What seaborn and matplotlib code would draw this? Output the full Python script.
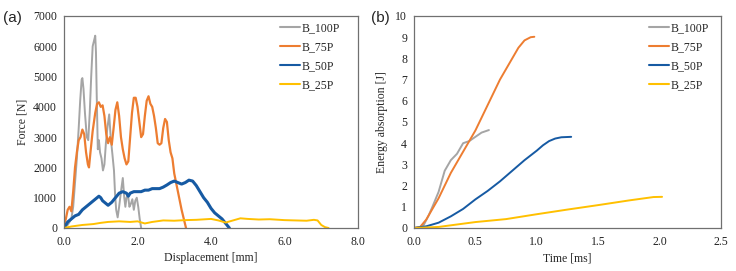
import numpy as np
import pandas as pd
import matplotlib
matplotlib.use("Agg")
import matplotlib.pyplot as plt
import seaborn as sns

series_names = ["B_100P", "B_75P", "B_50P", "B_25P"]
colors = ["#A5A5A5", "#ED7D31", "#165AA3", "#FFC000"]

# (a) Force vs displacement
disp_100 = [0, 0.1, 0.2, 0.25, 0.3, 0.35, 0.4, 0.44, 0.48, 0.5, 0.53, 0.57, 0.62, 0.66, 0.7, 0.74,
            0.78, 0.82, 0.85, 0.87, 0.89, 0.92, 0.95, 0.98, 1.02, 1.06, 1.1, 1.14, 1.18, 1.23, 1.27,
            1.32, 1.36, 1.39, 1.42, 1.46, 1.5, 1.55, 1.6, 1.64, 1.67, 1.7, 1.74, 1.78, 1.82, 1.86,
            1.9, 1.94, 1.98, 2.02, 2.06, 2.1]
force_100 = [0, 100, 300, 700, 1500, 2300, 3300, 4200, 4900, 4950, 4600, 3800, 3000, 2900, 3800, 5000,
             6000, 6200, 6350, 5800, 4400, 2600, 2900, 2500, 2300, 1900, 2100, 2800, 3300, 3750, 3000,
             2400, 1900, 1100, 600, 350, 700, 1200, 1650, 1000, 700, 1000, 1100, 700, 800, 950,
             600, 900, 1000, 700, 300, 0]

disp_75 = [0, 0.05, 0.1, 0.15, 0.2, 0.25, 0.3, 0.35, 0.4, 0.45, 0.5, 0.55, 0.6, 0.65, 0.68, 0.72,
           0.78, 0.85, 0.9, 0.95, 1.0, 1.05, 1.1, 1.15, 1.2, 1.25, 1.3, 1.35, 1.4, 1.45, 1.5, 1.55,
           1.6, 1.65, 1.7, 1.75, 1.8, 1.85, 1.9, 1.95, 2.0, 2.05, 2.1, 2.15, 2.2, 2.25, 2.3, 2.35,
           2.4, 2.45, 2.5, 2.55, 2.6, 2.65, 2.7, 2.75, 2.8, 2.85, 2.9, 2.95, 3.0, 3.1, 3.2, 3.32]
force_75 = [100, 300, 600, 700, 550, 1200, 2000, 2500, 2900, 3000, 3250, 3100, 2500, 2100, 2000, 2500,
            3200, 3800, 4100, 4150, 4000, 4050, 3700, 3100, 2800, 3000, 2750, 3300, 3900, 4150, 3700, 3000,
            2600, 2300, 2100, 2200, 3000, 3800, 4300, 4300, 4000, 3500, 3000, 3100, 3700, 4200, 4350, 4100,
            4000, 3700, 3300, 2800, 2750, 2800, 3300, 3600, 3500, 2900, 2500, 2300, 1800, 1200, 600, 0]

disp_50 = [0, 0.05, 0.1, 0.2, 0.3, 0.4, 0.5, 0.6, 0.7, 0.8, 0.9, 0.95, 1.0, 1.05, 1.1, 1.2, 1.3, 1.4,
           1.5, 1.6, 1.7, 1.75, 1.8, 1.9, 2.0, 2.1, 2.2, 2.3, 2.4, 2.5, 2.6, 2.7, 2.8, 2.9, 3.0, 3.1,
           3.2, 3.3, 3.4, 3.5, 3.6, 3.7, 3.8, 3.9, 4.0, 4.1, 4.2, 4.3, 4.4, 4.5]
force_50 = [0, 100, 200, 300, 400, 450, 600, 700, 800, 900, 1000, 1050, 1000, 900, 850, 750, 850, 1000,
            1150, 1200, 1150, 1050, 1150, 1200, 1200, 1200, 1250, 1250, 1300, 1300, 1300, 1350, 1420, 1500, 1550, 1500,
            1450, 1500, 1580, 1550, 1400, 1200, 1000, 850, 650, 500, 400, 300, 150, 0]

disp_25 = [0, 0.2, 0.5, 0.8, 1.0, 1.2, 1.5, 1.8, 2.0, 2.2, 2.4, 2.7, 3.0, 3.3, 3.6, 4.0, 4.2, 4.4,
           4.6, 4.8, 5.0, 5.3, 5.6, 6.0, 6.3, 6.6, 6.8, 6.9, 7.0, 7.1, 7.2]
force_25 = [0, 50, 100, 130, 170, 200, 220, 200, 220, 150, 200, 250, 240, 260, 270, 300, 250, 180,
            250, 320, 300, 280, 290, 260, 250, 240, 270, 250, 100, 30, 0]

# (b) Energy absorption vs time
time_100 = [0, 0.05, 0.08, 0.12, 0.15, 0.2, 0.25, 0.3, 0.35, 0.4, 0.45, 0.5, 0.55, 0.61]
energy_100 = [0, 0.03, 0.15, 0.6, 1.0, 1.7, 2.7, 3.2, 3.5, 4.0, 4.1, 4.3, 4.5, 4.62]

time_75 = [0, 0.05, 0.1, 0.15, 0.2, 0.25, 0.3, 0.35, 0.4, 0.45, 0.5, 0.55, 0.6, 0.65, 0.7, 0.75,
           0.8, 0.85, 0.9, 0.95, 0.98]
energy_75 = [0, 0.05, 0.4, 0.9, 1.4, 2.0, 2.6, 3.1, 3.6, 4.1, 4.6, 5.2, 5.8, 6.4, 7.0, 7.5,
             8.0, 8.5, 8.85, 9.0, 9.02]

time_50 = [0, 0.1, 0.2, 0.3, 0.4, 0.5, 0.6, 0.7, 0.8, 0.9, 1.0, 1.05, 1.1, 1.15, 1.2, 1.28]
energy_50 = [0, 0.08, 0.25, 0.55, 0.9, 1.35, 1.75, 2.2, 2.7, 3.2, 3.65, 3.9, 4.1, 4.22, 4.28, 4.3]

time_25 = [0, 0.2, 0.5, 0.75, 1.0, 1.25, 1.5, 1.75, 1.95, 2.02]
energy_25 = [0, 0.05, 0.28, 0.42, 0.65, 0.87, 1.08, 1.3, 1.46, 1.47]

force_data = [(disp_100, force_100), (disp_75, force_75), (disp_50, force_50), (disp_25, force_25)]
energy_data = [(time_100, energy_100), (time_75, energy_75), (time_50, energy_50), (time_25, energy_25)]

sns.set_theme(style="white")
plt.rcParams["font.family"] = ["Liberation Serif", "DejaVu Serif"]

fig = plt.figure(figsize=(7.36, 2.71), dpi=100)
axA = fig.add_axes([64 / 736, 1 - 228 / 271, 294 / 736, 212 / 271])
axB = fig.add_axes([414 / 736, 1 - 228 / 271, 307 / 736, 212 / 271])

widths_a = [1.4, 1.6, 2.2, 1.4]
for name, col, lw, (x, y) in zip(series_names, colors, widths_a, force_data):
    df = pd.DataFrame({"x": x, "y": y})
    sns.lineplot(data=df, x="x", y="y", ax=axA, color=col, linewidth=lw, sort=False,
                 estimator=None, label=name)

for name, col, (x, y) in zip(series_names, colors, energy_data):
    df = pd.DataFrame({"x": x, "y": y})
    sns.lineplot(data=df, x="x", y="y", ax=axB, color=col, linewidth=1.4, sort=False,
                 estimator=None, label=name)

tick_fs = 8.5
for ax, bx in ((axA, 0.955), (axB, 0.975)):
    for s in ax.spines.values():
        s.set_color("#707070")
        s.set_linewidth(0.9)
    ax.tick_params(direction="in", length=3, width=0.8, color="#707070",
                   labelsize=tick_fs, labelcolor="#222222")
    ax.tick_params(axis="x", pad=6)
    ax.tick_params(axis="y", pad=5)
    leg = ax.legend(loc="upper right", bbox_to_anchor=(bx, 0.995), frameon=False,
                    fontsize=tick_fs, handlelength=1.7, handletextpad=0.1,
                    labelspacing=0.6, borderaxespad=0.0)
    for h in leg.get_lines():
        h.set_linewidth(1.5)

axA.set_xlim(0, 8)
axA.set_ylim(0, 7000)
axA.set_xticks(np.arange(0, 8.1, 2))
axA.set_xticklabels([f"{v:.1f}" for v in np.arange(0, 8.1, 2)])
axA.set_yticks(np.arange(0, 7001, 1000))
axA.set_xlabel("Displacement [mm]", fontsize=tick_fs, labelpad=3)
axA.set_ylabel("Force [N]", fontsize=tick_fs, labelpad=3)

axB.set_xlim(0, 2.5)
axB.set_ylim(0, 10)
axB.set_xticks(np.arange(0, 2.51, 0.5))
axB.set_xticklabels([f"{v:.1f}" for v in np.arange(0, 2.51, 0.5)])
axB.set_yticks(np.arange(0, 11, 1))
axB.set_xlabel("Time [ms]", fontsize=tick_fs, labelpad=3)
axB.set_ylabel("Energy absorption [J]", fontsize=tick_fs, labelpad=5)

fig.text(3 / 736, 1 - 18 / 271, "(a)", fontsize=11, family=["Liberation Sans", "DejaVu Sans"],
         va="center", ha="left")
fig.text(371 / 736, 1 - 18 / 271, "(b)", fontsize=11, family=["Liberation Sans", "DejaVu Sans"],
         va="center", ha="left")

fig.savefig("out.png", dpi=100)
